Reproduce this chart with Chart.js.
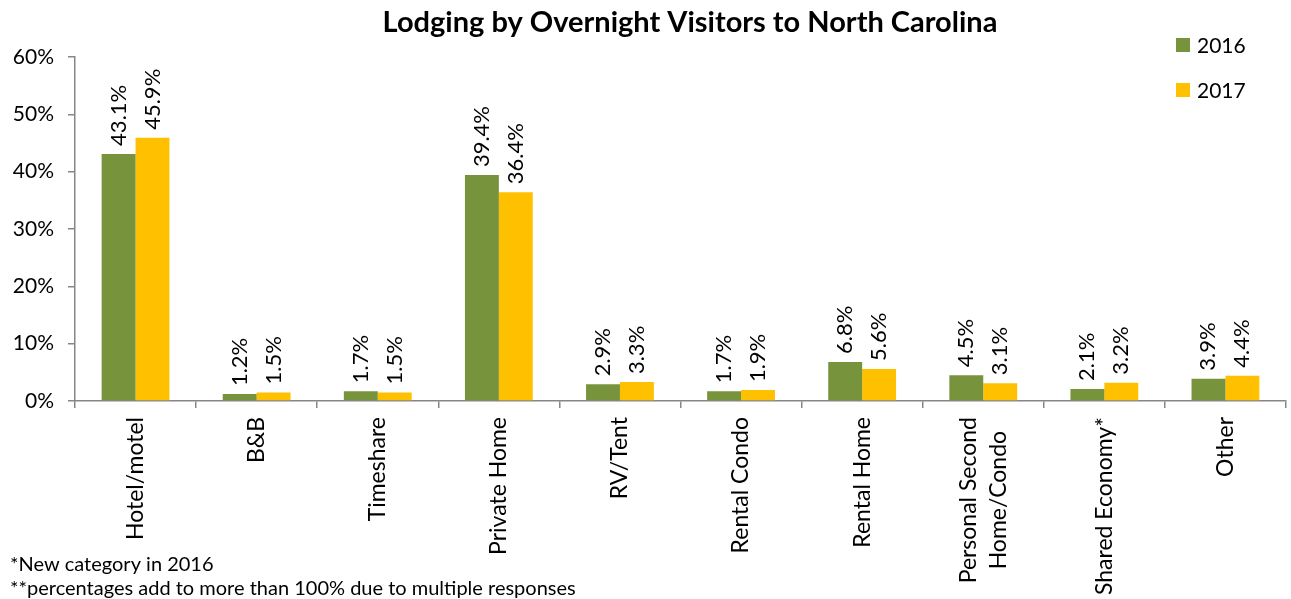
<!DOCTYPE html>
<html>
<head>
<meta charset="utf-8">
<script src="https://cdn.jsdelivr.net/npm/chart.js@4"></script>
<style>
  html, body { margin: 0; padding: 0; background: #fff; }
  #wrap { width: 1291px; height: 599px; position: relative; }
</style>
</head>
<body>
<div id="wrap"><canvas id="c" width="1291" height="599"></canvas></div>
<script>
const categories = ['Hotel/motel', 'B&B', 'Timeshare', 'Private Home', 'RV/Tent', 'Rental Condo', 'Rental Home', ['Personal Second', 'Home/Condo'], 'Shared Economy*', 'Other'];
const values2016 = [43.1, 1.2, 1.7, 39.4, 2.9, 1.7, 6.8, 4.5, 2.1, 3.9];
const values2017 = [45.9, 1.5, 1.5, 36.4, 3.3, 1.9, 5.6, 3.1, 3.2, 4.4];
const seriesNames = ['2016', '2017'];
const yTicks = [0, 10, 20, 30, 40, 50, 60];
const titleText = 'Lodging by Overnight Visitors to North Carolina';
const footnotes = ['*New category in 2016', '**percentages add to more than 100% due to multiple responses'];

const FONT = 'Lato, "Open Sans", sans-serif';
const AXIS = '#868686';
const COLORS = ['#77933C', '#FFC000'];

const labelPlugin = {
  id: 'valueLabels',
  afterDatasetsDraw(chart) {
    const ctx = chart.ctx;
    ctx.save();
    ctx.font = '22px ' + FONT;
    ctx.fillStyle = '#000';
    ctx.textAlign = 'left';
    ctx.textBaseline = 'alphabetic';
    chart.data.datasets.forEach((ds, di) => {
      const meta = chart.getDatasetMeta(di);
      meta.data.forEach((bar, i) => {
        ctx.save();
        ctx.translate(bar.x + 7, bar.y - 8);
        ctx.rotate(-Math.PI / 2);
        ctx.fillText(ds.data[i].toFixed(1) + '%', 0, 0);
        ctx.restore();
      });
    });
    ctx.restore();
  }
};

// centre multi-line rotated category labels on their tick, lines centred on each other
const centerMultiline = {
  id: 'centerMultiline',
  beforeDraw(chart) {
    const scale = chart.scales.x;
    const ctx = chart.ctx;
    const items = scale.getLabelItems(chart.chartArea);
    items.forEach(item => {
      if (Array.isArray(item.label) && item.label.length > 1 && !item._centered) {
        item.textOffset -= (item.label.length - 1) * item.font.lineHeight / 2;
        ctx.save();
        ctx.font = item.font.string;
        const w = Math.max(...item.label.map(l => ctx.measureText(l).width));
        ctx.restore();
        const t = item.options.translation;
        item.options = Object.assign({}, item.options, {
          textAlign: 'center',
          translation: [t[0], t[1] + w / 2]
        });
        item._centered = true;
      }
    });
  }
};

const decorPlugin = {
  id: 'decor',
  afterDraw(chart) {
    const ctx = chart.ctx;
    ctx.save();
    // title
    ctx.font = 'bold 29px ' + FONT;
    ctx.fillStyle = '#000';
    ctx.textAlign = 'center';
    ctx.textBaseline = 'middle';
    ctx.fillText(titleText, 690, 23);
    // legend
    ctx.font = '21px ' + FONT;
    ctx.textAlign = 'left';
    chart.data.datasets.forEach((ds, i) => {
      const y = 45 + i * 45;
      ctx.fillStyle = ds.backgroundColor;
      ctx.fillRect(1176, y - 7, 14, 14);
      ctx.fillStyle = '#000';
      ctx.fillText(ds.label, 1197, y + 1);
    });
    // footnotes
    ctx.font = '20px ' + FONT;
    ctx.textBaseline = 'middle';
    ctx.fillText(footnotes[0], 10, 565);
    ctx.fillText(footnotes[1], 10, 589);
    ctx.restore();
  }
};

new Chart(document.getElementById('c'), {
  type: 'bar',
  data: {
    labels: categories,
    datasets: [
      { label: seriesNames[0], data: values2016, backgroundColor: COLORS[0], categoryPercentage: 0.56, barPercentage: 1.0 },
      { label: seriesNames[1], data: values2017, backgroundColor: COLORS[1], categoryPercentage: 0.56, barPercentage: 1.0 }
    ]
  },
  options: {
    responsive: false,
    animation: false,
    layout: { padding: { top: 57, right: 5, left: 0, bottom: 0 } },
    plugins: {
      legend: { display: false },
      title: { display: false },
      tooltip: { enabled: false }
    },
    scales: {
      x: {
        afterFit(scale) { scale.height = 198; },
        border: { display: true, color: AXIS, width: 1.5 },
        grid: { display: true, drawOnChartArea: false, drawTicks: true, tickLength: 7, color: AXIS, lineWidth: 1.5, offset: true },
        ticks: {
          autoSkip: false, maxRotation: 90, minRotation: 90, padding: 9,
          color: '#000', font: { family: FONT, size: 23, lineHeight: 1.3 }
        }
      },
      y: {
        min: 0, max: 60,
        afterFit(scale) { scale.width = 75; },
        afterBuildTicks(scale) { scale.ticks = yTicks.map(v => ({ value: v })); },
        border: { display: true, color: AXIS, width: 1.5 },
        grid: { display: true, drawOnChartArea: false, drawTicks: true, tickLength: 7, color: AXIS, lineWidth: 1.5 },
        ticks: {
          padding: 14, color: '#000', font: { family: FONT, size: 21 },
          callback: v => v + '%'
        }
      }
    }
  },
  plugins: [labelPlugin, centerMultiline, decorPlugin]
});
</script>
</body>
</html>
